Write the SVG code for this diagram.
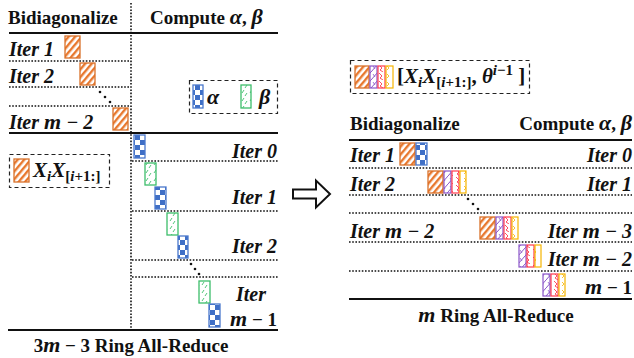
<svg xmlns="http://www.w3.org/2000/svg" width="634" height="358" viewBox="0 0 634 358">
<defs>
<pattern id="pOrange" patternUnits="userSpaceOnUse" width="5" height="5" patternTransform="rotate(40)">
<rect width="5" height="5" fill="#fff"/><rect width="2.4" height="5" fill="#E8782E"/>
</pattern>
<pattern id="pBlue" patternUnits="userSpaceOnUse" width="10" height="10">
<rect width="10" height="10" fill="#fff"/><rect width="5" height="5" fill="#3F6FC6"/><rect x="5" y="5" width="5" height="5" fill="#3F6FC6"/>
</pattern>
<pattern id="pGreen" patternUnits="userSpaceOnUse" width="8" height="8">
<rect width="8" height="8" fill="#fff"/><path d="M2 5 L4 2 M5 8 L7 5" stroke="#3DBE6A" stroke-width="0.9"/>
</pattern>
<pattern id="pPurple" patternUnits="userSpaceOnUse" width="7" height="8">
<rect width="7" height="8" fill="#fff"/><path d="M0 8 L7 0" stroke="#8A55C9" stroke-width="1"/><path d="M2 2 L4 5" stroke="#8A55C9" stroke-width="0.8"/>
</pattern>
<pattern id="pRed" patternUnits="userSpaceOnUse" width="7" height="8">
<rect width="7" height="8" fill="#fff"/><path d="M1 1 L4 4 L2 6 L5 8" stroke="#FF3B4E" stroke-width="0.9" fill="none"/>
</pattern>
<pattern id="pYellow" patternUnits="userSpaceOnUse" width="7" height="8">
<rect width="7" height="8" fill="#fff"/><path d="M2 2 L4 4 L2 6" stroke="#F6B400" stroke-width="0.8" fill="none"/>
</pattern>
</defs>
<style>
text{font-family:"Liberation Serif","Times New Roman",serif;font-weight:bold;fill:#111;font-size:19px}
.it{font-style:italic;font-size:20px}
.r{text-anchor:end}
.m{text-anchor:middle}
.mm{font-style:italic;font-size:22px}
.big{font-size:21px}
.sub{font-size:15px}
.solid{stroke:#111;stroke-width:2}
.dot{stroke:#111;stroke-width:1.6;stroke-dasharray:1.6 1.6;fill:none}
.dash{stroke:#222;stroke-width:1.2;stroke-dasharray:4 3;fill:#fff}
.o{fill:url(#pOrange);stroke:#D9712A;stroke-width:1.3}
.b{fill:url(#pBlue);stroke:#4A78CC;stroke-width:1.3}
.g{fill:url(#pGreen);stroke:#3DBE6A;stroke-width:1.3}
.p{fill:url(#pPurple);stroke:#8A55C9;stroke-width:1.2}
.rd{fill:url(#pRed);stroke:#FF3B4E;stroke-width:1.2}
.y{fill:url(#pYellow);stroke:#F6B400;stroke-width:1.2}
</style>

<g id="connectors">
<line class="dot" x1="131" y1="3" x2="131" y2="331"/>
<line class="solid" x1="9" y1="33" x2="278" y2="33"/>
<line class="solid" x1="9" y1="133" x2="278" y2="133"/>
<line class="solid" x1="8" y1="330" x2="278" y2="330"/>
<line class="dot" x1="9" y1="61" x2="130" y2="61"/>
<line class="dot" x1="9" y1="87" x2="130" y2="87"/>
<line class="dot" x1="9" y1="106" x2="130" y2="106"/>
<line class="dot" x1="132" y1="161" x2="278" y2="161"/>
<line class="dot" x1="132" y1="211" x2="278" y2="211"/>
<line class="dot" x1="132" y1="260" x2="278" y2="260"/>
<line class="dot" x1="132" y1="277" x2="278" y2="277"/>
<line class="solid" x1="349" y1="140" x2="632" y2="140"/>
<line class="solid" x1="349" y1="299" x2="632" y2="299"/>
<line class="dot" x1="349" y1="168" x2="632" y2="168"/>
<line class="dot" x1="349" y1="195" x2="632" y2="195"/>
<line class="dot" x1="349" y1="213" x2="632" y2="213"/>
<line class="dot" x1="349" y1="242" x2="632" y2="242"/>
<line class="dot" x1="349" y1="271" x2="632" y2="271"/>
<path d="M293 189.5 H316 V180.5 L330 194 L316 207.5 V198.5 H293 Z" fill="#fff" stroke="#111" stroke-width="2" stroke-linejoin="miter"/>
<g fill="#111">
<circle cx="100" cy="92" r="1.3"/><circle cx="105" cy="97" r="1.3"/><circle cx="110" cy="102" r="1.3"/>
<circle cx="191" cy="264" r="1.3"/><circle cx="195" cy="269" r="1.3"/><circle cx="199" cy="274" r="1.3"/>
<circle cx="468" cy="199" r="1.3"/><circle cx="473" cy="204" r="1.3"/><circle cx="478" cy="209" r="1.3"/>
</g>
</g>

<g id="left-headers">
<text x="8" y="24">Bidiagonalize</text>
<text x="150" y="24">Compute <tspan class="mm">α</tspan>, <tspan class="mm">β</tspan></text>
<text class="m" x="131" y="352" font-size="20">3<tspan class="mm">m</tspan> − 3 Ring All-Reduce</text>
</g>

<g id="left-bidiag">
<text class="it" x="9" y="56">Iter 1</text>
<rect class="o" x="65" y="36" width="15" height="22"/>
<text class="it" x="9" y="83">Iter 2</text>
<rect class="o" x="80" y="63" width="15" height="22"/>
<text class="it" x="9" y="129">Iter <tspan class="mm">m</tspan> − 2</text>
<rect class="o" x="113" y="108" width="15" height="22"/>
</g>

<g id="left-legend">
<rect class="dash" x="9.5" y="154.5" width="100" height="33"/>
<rect class="o" x="14" y="159" width="15" height="23"/>
<text x="33" y="177"><tspan class="mm big">X</tspan><tspan class="sub" font-style="italic" dy="4">i</tspan><tspan class="mm big" dy="-4">X</tspan><tspan class="sub" dy="4">[<tspan font-style="italic">i</tspan>+1:]</tspan></text>
</g>

<g id="alpha-beta-legend">
<rect class="dash" x="189.5" y="80.5" width="88" height="33"/>
<rect class="b" x="193" y="85" width="10" height="23"/>
<text class="mm" x="207" y="104">α</text>
<rect class="g" x="241" y="85" width="10" height="23"/>
<text class="mm" x="259" y="104">β</text>
</g>

<g id="left-compute">
<rect class="b" x="134" y="135" width="11" height="23"/>
<text class="it r" x="277" y="158">Iter 0</text>
<rect class="g" x="145" y="163" width="11" height="22"/>
<rect class="b" x="155" y="187" width="11" height="22"/>
<text class="it r" x="277" y="204">Iter 1</text>
<rect class="g" x="167" y="213" width="11" height="22"/>
<rect class="b" x="178" y="236" width="10" height="22"/>
<text class="it r" x="277" y="253">Iter 2</text>
<rect class="g" x="199" y="281" width="11" height="22"/>
<rect class="b" x="209" y="304" width="11" height="23"/>
<text class="it" x="236" y="301">Iter</text>
<text class="r" x="277" y="326" font-size="20"><tspan class="mm">m</tspan> − 1</text>
</g>

<g id="right-legend">
<rect class="dash" x="350.5" y="60.5" width="179" height="33"/>
<rect class="o" x="355" y="66" width="14" height="22"/>
<rect class="p" x="370" y="66" width="7" height="22"/>
<rect class="rd" x="378" y="66" width="7" height="22"/>
<rect class="y" x="386" y="66" width="7" height="22"/>
<text x="397" y="83" class="big">[<tspan class="mm big">X</tspan><tspan class="sub" font-style="italic" dy="4">i</tspan><tspan class="mm big" dy="-4">X</tspan><tspan class="sub" dy="4">[<tspan font-style="italic">i</tspan>+1:]</tspan><tspan dy="-4">, </tspan><tspan class="mm big">θ</tspan><tspan class="sub" dy="-8"><tspan font-style="italic">i</tspan>−1</tspan><tspan dy="8"> ]</tspan></text>
</g>

<g id="right-headers">
<text x="350" y="130">Bidiagonalize</text>
<text class="r" x="632" y="130">Compute <tspan class="mm">α</tspan>, <tspan class="mm">β</tspan></text>
<text class="m" x="496" y="322" font-size="20"><tspan class="mm">m</tspan> Ring All-Reduce</text>
</g>

<g id="right-rows">
<text class="it" x="350" y="162">Iter 1</text>
<rect class="o" x="400" y="143" width="15" height="22"/>
<rect class="b" x="416" y="143" width="11" height="22"/>
<text class="it r" x="632" y="162">Iter 0</text>

<text class="it" x="350" y="191">Iter 2</text>
<rect class="o" x="428" y="171" width="15" height="22"/>
<rect class="p" x="444" y="171" width="7" height="22"/>
<rect class="rd" x="452" y="171" width="7" height="22"/>
<rect class="y" x="460" y="171" width="6" height="22"/>
<text class="it r" x="632" y="191">Iter 1</text>

<text class="it" x="350" y="238">Iter <tspan class="mm">m</tspan> − 2</text>
<rect class="o" x="480" y="217" width="15" height="22"/>
<rect class="p" x="496" y="217" width="7" height="22"/>
<rect class="rd" x="504" y="217" width="7" height="22"/>
<rect class="y" x="512" y="217" width="6" height="22"/>
<text class="it r" x="632" y="238">Iter <tspan class="mm">m</tspan> − 3</text>

<rect class="p" x="519" y="245" width="7" height="22"/>
<rect class="rd" x="527" y="245" width="7" height="22"/>
<rect class="y" x="535" y="245" width="6" height="22"/>
<text class="it r" x="632" y="266">Iter <tspan class="mm">m</tspan> − 2</text>

<rect class="p" x="543" y="274" width="7" height="22"/>
<rect class="rd" x="551" y="274" width="7" height="22"/>
<rect class="y" x="559" y="274" width="6" height="22"/>
<text class="r" x="632" y="294" font-size="20"><tspan class="mm">m</tspan> − 1</text>
</g>
</svg>
